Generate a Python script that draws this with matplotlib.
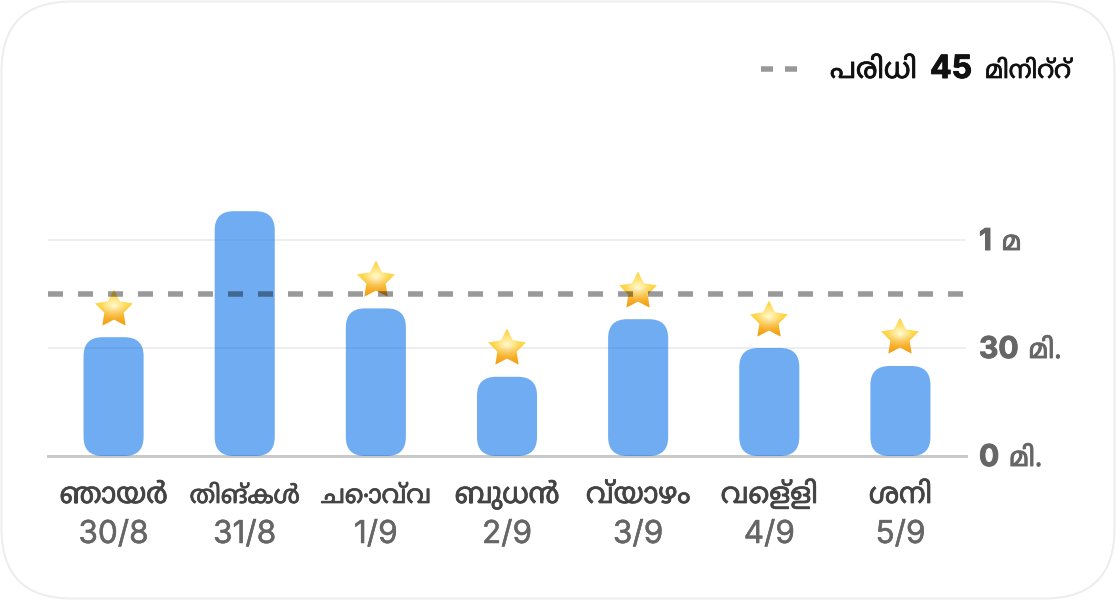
#!/usr/bin/env python
"""Weekly minutes bar chart with goal line and star badges."""

import matplotlib

matplotlib.use("Agg")
import matplotlib.patheffects as pe
import matplotlib.pyplot as plt
import numpy as np
from matplotlib.lines import Line2D
from matplotlib.offsetbox import AnnotationBbox, OffsetImage
from matplotlib.patches import FancyBboxPatch
from matplotlib.path import Path

DAYS = ["ഞായർ", "തിങ്കൾ", "ചൊവ്വ", "ബുധൻ", "വ്യാഴം", "വെള്ളി", "ശനി"]
DATES = ["30/8", "31/8", "1/9", "2/9", "3/9", "4/9", "5/9"]
MINUTES = [33, 68, 41, 22, 38, 30, 25]
STARRED = [True, False, True, True, True, True, True]
GOAL = 45
TICKS = [0, 30, 60]
TICK_NUMBERS = ["0", "30", "1"]
TICK_UNITS = ["മി.", "മി.", "മ"]
LEGEND_PARTS = ["പരിധി", "45", "മിനിറ്റ്"]

W, H = 1116, 600
PT = 72 / 100  # points per pixel at dpi 100
BAR_COLOR = "#0871EA"
ML_FONT = ["Noto Sans Malayalam", "DejaVu Sans"]
NUM_FONT = ["Inter", "Liberation Sans", "DejaVu Sans"]
DAY_MAX_WIDTH = 110  # px, matplotlib does not form conjuncts so some labels run wide


def heavier(color, px):
    """Thicken a regular face, since the variable fonts load at one weight."""
    return [pe.withStroke(linewidth=px * PT, foreground=color)]


def star_image(size=50, ss=4):
    """Gradient star picture, standing in for the emoji."""
    n = size * ss
    yy, xx = np.mgrid[0:n, 0:n]
    u = (xx + 0.5) / n * 2 - 1
    v = (yy + 0.5) / n * 2 - 1
    pts = np.column_stack([u.ravel(), v.ravel()])
    ang = np.linspace(np.pi / 2, np.pi / 2 + 2 * np.pi, 11)[:-1]
    rad = np.where(np.arange(10) % 2 == 0, 0.86, 0.44)
    verts = np.column_stack([rad * np.cos(ang), -rad * np.sin(ang) + 0.06])
    star = Path(verts, closed=False)
    mask = star.contains_points(pts, radius=0.06).reshape(n, n)
    inner = star.contains_points(pts, radius=-0.03).reshape(n, n)

    # pale centre going to orange at the lower points
    r = np.hypot(u, v + 0.05)[..., None]
    low = np.clip((v[..., None] + 0.1) / 0.8, 0, 1)
    pale = np.array([1.0, 0.99, 0.86])
    gold = np.array([1.0, 0.84, 0.28])
    deep = np.array([0.95, 0.60, 0.08])
    rgb = pale + (gold - pale) * np.clip(r / 0.55, 0, 1)
    rgb = rgb + (deep - rgb) * low
    edge_top = np.array([0.97, 0.74, 0.38])
    edge_bot = np.array([0.80, 0.50, 0.12])
    edge = edge_top + (edge_bot - edge_top) * np.clip((v[..., None] + 1) / 2, 0, 1)
    rgb = np.where(inner[..., None], rgb, edge)
    rgba = np.dstack([rgb, mask.astype(float)])
    # box-filter down to the final size
    return rgba.reshape(size, ss, size, ss, 4).mean(axis=(1, 3))


def main():
    plt.rcParams["lines.scale_dashes"] = False
    plt.rcParams["font.family"] = ML_FONT

    fig = plt.figure(figsize=(W / 100, H / 100), dpi=100, facecolor="white")
    renderer = fig.canvas.get_renderer()

    # card outline, kept behind the axes
    card = FancyBboxPatch(
        (1.5 / W, 1.5 / H), (W - 3) / W, (H - 3) / H,
        boxstyle=f"round,pad=0,rounding_size={70 / W}", mutation_aspect=W / H,
        transform=fig.transFigure, facecolor="white", edgecolor="#EDEDED", linewidth=2 * PT, zorder=-1,
    )
    fig.add_artist(card)

    # y runs 0..70 at 3.6 px/min, baseline at 456 px from the top
    ax = fig.add_axes([48 / W, (H - 456) / H, (966 - 48) / W, 252 / H])
    ax.patch.set_alpha(0)
    ax.set_xlim(-0.5, 6.5)
    ax.set_ylim(0, 70)
    ax.set_yticks(TICKS)
    ax.set_xticks(range(len(DAYS)))
    ax.tick_params(length=0, labelbottom=False, labelleft=False)
    for spine in ax.spines.values():
        spine.set_visible(False)
    ax.grid(axis="y", color="#EEEEEE", linewidth=2 * PT, zorder=1)
    ax.set_axisbelow(True)
    ax.axhline(0, color="#C9C9C9", linewidth=3 * PT, zorder=2, clip_on=False)

    px_x = 1 / 131
    px_y = 1 / 3.6
    bar_w = 60 * px_x
    star = star_image()
    for i, value in enumerate(MINUTES):
        bar = FancyBboxPatch(
            (i - bar_w / 2, 0), bar_w, value,
            boxstyle=f"round,pad=0,rounding_size={19 * px_x}", mutation_aspect=px_y / px_x,
            facecolor=BAR_COLOR, edgecolor="none", alpha=0.58, zorder=3, clip_on=False,
        )
        ax.add_patch(bar)
        if STARRED[i]:
            ab = AnnotationBbox(
                OffsetImage(star, zoom=1.0, dpi_cor=False), (i, value), xybox=(0, 29.5 * PT),
                boxcoords="offset points", frameon=False, pad=0, zorder=4,
            )
            ax.add_artist(ab)

    # goal line sits on top of bars and stars
    ax.axhline(
        GOAL, color="black", alpha=0.4, linewidth=5.5 * PT, dashes=(15 * PT, 15 * PT),
        dash_capstyle="butt", zorder=5,
    )

    # day and date labels under the axis
    xtrans = ax.get_xaxis_transform()
    for i, (day, date) in enumerate(zip(DAYS, DATES)):
        label = ax.annotate(
            day, xy=(i, 0), xycoords=xtrans, xytext=(0, -47 * PT), textcoords="offset points",
            ha="center", va="baseline", fontsize=29 * PT, color="#444444",
            path_effects=heavier("#444444", 0.7),
        )
        width = label.get_window_extent(renderer).width
        if width > DAY_MAX_WIDTH:
            label.set_fontsize(label.get_fontsize() * DAY_MAX_WIDTH / width)
        ax.annotate(
            date, xy=(i, 0), xycoords=xtrans, xytext=(0, -87 * PT), textcoords="offset points",
            ha="center", va="baseline", fontsize=31.5 * PT, family=NUM_FONT, color="#666666",
            path_effects=heavier("#666666", 0.5),
        )

    # y tick labels to the right of the chart
    ytrans = ax.get_yaxis_transform()
    for tick, number, unit in zip(TICKS, TICK_NUMBERS, TICK_UNITS):
        num = ax.annotate(
            number, xy=(1, tick), xycoords=ytrans, xytext=(13 * PT, -10 * PT), textcoords="offset points",
            ha="left", va="baseline", fontsize=30 * PT, family=NUM_FONT, fontweight="bold", color="#666666",
            path_effects=heavier("#666666", 1.0),
        )
        ax.annotate(
            unit, xy=(1, tick), xycoords=(num, ytrans), xytext=(10 * PT, -10 * PT), textcoords="offset points",
            ha="left", va="baseline", fontsize=27 * PT, color="#666666",
            path_effects=heavier("#666666", 0.9),
        )

    # legend
    fig.add_artist(Line2D(
        [761 / W, 797 / W], [(H - 69) / H] * 2, transform=fig.transFigure, color="black", alpha=0.4,
        linewidth=5.5 * PT, dashes=(12 * PT, 12 * PT), dash_capstyle="butt",
    ))
    base = (H - 78) / H
    fig.text(830 / W, base, LEGEND_PARTS[0], ha="left", va="baseline", fontsize=29 * PT, color="#111111",
             path_effects=heavier("#111111", 0.7))
    fig.text(930 / W, base, LEGEND_PARTS[1], ha="left", va="baseline", fontsize=32 * PT, family=NUM_FONT,
             fontweight="bold", color="#111111", path_effects=heavier("#111111", 1.0))
    fig.text(985 / W, base, LEGEND_PARTS[2], ha="left", va="baseline", fontsize=25 * PT, color="#111111",
             path_effects=heavier("#111111", 0.7))

    fig.savefig("out.png", dpi=100)
    plt.close(fig)


if __name__ == "__main__":
    main()
